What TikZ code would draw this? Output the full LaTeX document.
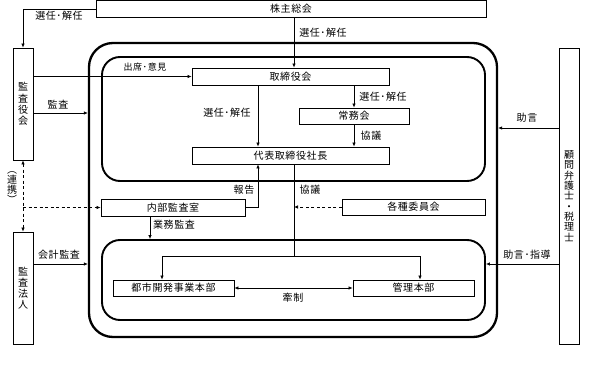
\documentclass[tikz,border=0pt]{standalone}
\usepackage{fontspec}
\setmainfont{Noto Sans CJK JP}[LetterSpace=6]
\usetikzlibrary{arrows.meta}
\tikzset{
  box/.style={draw, line width=0.8pt, inner sep=0pt, font=\fontsize{10}{11}\selectfont},
  vbox/.style={draw, line width=0.8pt, inner sep=0pt, align=center, font=\fontsize{10}{11.2}\selectfont},
  frame/.style={draw, line width=2.3pt, rounded corners=24pt, inner sep=0pt},
  iframe/.style={draw, line width=1.9pt, rounded corners=18pt, inner sep=0pt},
  arr/.style={line width=0.7pt, -{Latex[length=4pt,width=3.5pt]}},
  darr/.style={line width=0.7pt, {Latex[length=4pt,width=3.5pt]}-{Latex[length=4pt,width=3.5pt]}},
  dashedarr/.style={line width=0.7pt, dashed, dash pattern=on 3pt off 2.5pt, -{Latex[length=4pt,width=3.5pt]}},
  ln/.style={line width=0.7pt},
  lbl/.style={inner sep=0pt, font=\fontsize{10}{11}\selectfont},
}
\begin{document}
\begin{tikzpicture}[x=1pt,y=-1pt]
\useasboundingbox (0,0) rectangle (601,366);
% frames
\node[frame, minimum width=408pt, minimum height=294pt] (outer) at (293,190) {};
\node[iframe, minimum width=383pt, minimum height=124pt] (innert) at (293.5,119) {};
\node[iframe, minimum width=383pt, minimum height=80pt] (innerb) at (293.5,280) {};
% boxes
\node[box, minimum width=390pt, minimum height=17pt] (kabu) at (291,9) {株主総会};
\node[vbox, minimum width=20pt, minimum height=112pt] (kansayaku) at (23,104) {監\\査\\役\\会};
\node[box, minimum width=197pt, minimum height=17pt] (tori) at (290.5,76.5) {取締役会};
\node[box, minimum width=110pt, minimum height=16pt] (jomu) at (354,116) {常務会};
\node[box, minimum width=197pt, minimum height=17pt] (daihyo) at (290.5,155.5) {代表取締役社長};
\node[box, minimum width=144pt, minimum height=17pt] (naibu) at (173,207.5) {内部監査室};
\node[box, minimum width=143pt, minimum height=16pt] (kakushu) at (413.5,207) {各種委員会};
\node[vbox, minimum width=20pt, minimum height=112pt] (hojin) at (23,288) {監\\査\\法\\人};
\node[box, minimum width=121pt, minimum height=16pt] (toshi) at (173.5,288) {都市開発事業本部};
\node[box, minimum width=121pt, minimum height=16pt] (kanri) at (413.5,288) {管理本部};
\node[vbox, minimum width=20pt, minimum height=296pt, font=\fontsize{10}{10.3}\selectfont] (komon) at (569,196) {顧\\問\\弁\\護\\士\\・\\税\\理\\士};
% connectors
\draw[arr] (kabu.west) -| (kansayaku.north);
\draw[arr] (kabu.south -| 294,0) -- (tori.north -| 294,0);
\draw[arr] (kansayaku.east |- tori.west) -- (tori.west);
\draw[arr] (kansayaku.east |- 0,113) -- (outer.west |- 0,113);
\draw[arr] (tori.south -| 258,0) -- (daihyo.north -| 258,0);
\draw[arr] (tori.south -| jomu.north) -- (jomu.north);
\draw[arr] (jomu.south) -- (jomu.south |- daihyo.north);
\draw[arr] (naibu.east) -| (daihyo.south -| 258,0);
\coordinate (j) at (294,256);
\draw[ln] (daihyo.south -| j) -- (j);
\draw[arr] (j) -| (toshi.north -| 162,0);
\draw[arr] (j) -| (kanri.north -| 420,0);
\draw[dashedarr] (kakushu.west) -- (kakushu.west -| j);
\draw[arr] (naibu.south -| 150,0) -- (innerb.north -| 150,0);
\draw[darr, dashed, dash pattern=on 3pt off 2.5pt] (kansayaku.south) -- (hojin.north);
\draw[dashedarr] (kansayaku.south |- naibu.west) -- (naibu.west);
\draw[arr] (hojin.east |- 0,264) -- (outer.west |- 0,264);
\draw[darr] (toshi.east) -- (kanri.west);
\draw[arr] (komon.west |- 0,128) -- (outer.east |- 0,128);
\draw[arr] (komon.west |- 0,264) -- (innerb.east |- 0,264);
% labels
\node[lbl] (l1) at (59,15.5) {選任･解任};
\node[lbl, font=\fontsize{9}{10}\selectfont] (l2) at (145,67) {出席･意見};
\node[lbl] (l3) at (58,105) {監査};
\node[lbl] (l4) at (323,33) {選任･解任};
\node[lbl] (l5) at (227,113) {選任･解任};
\node[lbl] (l6) at (383,97) {選任･解任};
\node[lbl] (l7) at (371,136) {協議};
\node[lbl] (l8) at (244,190) {報告};
\node[lbl] (l9) at (310,190) {協議};
\node[lbl] (l10) at (174,225) {業務監査};
\node[lbl] (l11) at (59,255) {会計監査};
\node[lbl] (l12) at (527,118) {助言};
\node[lbl] (l13) at (527,255) {助言･指導};
\node[lbl] (l14) at (293,298) {牽制};
\node[lbl, align=center, font=\fontsize{10}{10}\selectfont] (l15) at (12,188) {︵\\連\\携\\︶};
\end{tikzpicture}
\end{document}
